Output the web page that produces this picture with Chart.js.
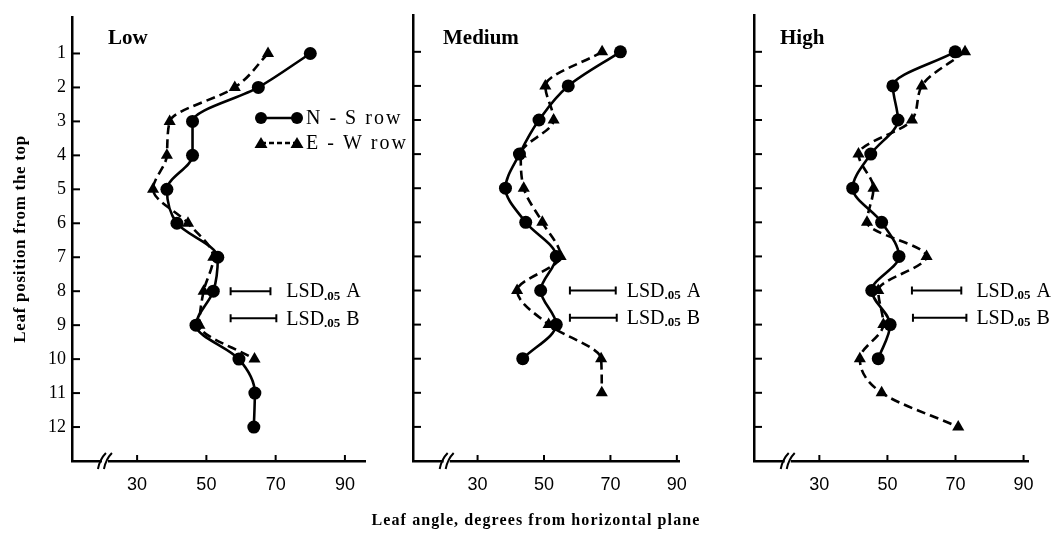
<!DOCTYPE html>
<html>
<head>
<meta charset="utf-8">
<script src="https://cdn.jsdelivr.net/npm/chart.js@4.4.1/dist/chart.umd.min.js"></script>
<style>
  body { margin: 0; background: #fff; width: 1058px; height: 533px; position: relative; overflow: hidden; }
  canvas.panel { position: absolute; top: 0; }
  #x-title {
    position: absolute; left: 0; width: 1072px; top: 511px; text-align: center;
    font: bold 16px 'Liberation Serif', serif; letter-spacing: 1.1px; color: #000;
  }
</style>
</head>
<body>
<canvas id="low-chart-id" class="panel" width="410" height="533" style="left:0px"></canvas>
<canvas id="medium-chart-id" class="panel" width="310" height="533" style="left:390px"></canvas>
<canvas id="high-chart-id" class="panel" width="328" height="533" style="left:730px"></canvas>
<div id="x-title">Leaf angle, degrees from horizontal plane</div>

<script>
// leaf positions (1 = top leaf)
const leafPositions = [1, 2, 3, 4, 5, 6, 7, 8, 9, 10, 11, 12];
const xTickValues = [30, 50, 70, 90];

// leaf angles, degrees
const lowNS = [80, 65, 46, 46, 38.6, 41.5, 53.3, 52, 47, 59.4, 64, 63.7];
const lowEW = [67.8, 58.2, 39.4, 38.6, 34.6, 44.7, 52, 49.2, 48, 63.9];
const mediumNS = [73, 57.3, 48.5, 42.6, 38.4, 44.5, 53.7, 49, 53.7, 43.6];
const mediumEW = [67.5, 50.4, 52.9, 43, 43.9, 49.5, 55, 41.9, 51.4, 67.2, 67.4];
const highNS = [69.9, 51.6, 53.1, 45.1, 39.8, 48.3, 53.4, 45.4, 50.8, 47.3];
const highEW = [72.8, 60.1, 57.2, 41.5, 45.9, 44, 61.5, 47.3, 48.8, 41.9, 48.3, 70.8];

// LSD.05 bars [from, to] in degrees
const lowLsdA = [57, 68.5];
const lowLsdB = [57, 70.2];
const mediumLsdA = [57.8, 71.6];
const mediumLsdB = [57.8, 71.9];
const highLsdA = [57.2, 71.7];
const highLsdB = [57.5, 73.2];

const LSD_ROWS = [8.0, 8.8];   // where the two bars sit
const BREAK_AT = 21;           // axis break mark

const SERIF = "'Liberation Serif', 'DejaVu Serif', serif";
const SANS = "'Liberation Sans', Arial, sans-serif";

function toPoints(values) {
  return values.map((v, i) => ({ x: v, y: leafPositions[i] }));
}

// draws inner ticks, axis break, labels and the legend
const panelDecor = {
  id: 'panelDecor',
  afterDraw(chart, args, opts) {
    const ctx = chart.ctx;
    const xs = chart.scales.x, ys = chart.scales.y;
    const area = chart.chartArea;
    ctx.save();
    ctx.strokeStyle = '#000';
    ctx.fillStyle = '#000';
    ctx.lineWidth = 2;

    // inner ticks on y axis
    leafPositions.forEach(p => {
      const y = ys.getPixelForValue(p);
      ctx.beginPath();
      ctx.moveTo(area.left, y);
      ctx.lineTo(area.left + 8, y);
      ctx.stroke();
    });
    // inner ticks on x axis
    xTickValues.forEach(v => {
      const x = xs.getPixelForValue(v);
      ctx.beginPath();
      ctx.moveTo(x, area.bottom);
      ctx.lineTo(x, area.bottom - 6);
      ctx.stroke();
    });

    // axis break "//"
    const bx = xs.getPixelForValue(BREAK_AT);
    const by = area.bottom;
    ctx.fillStyle = '#fff';
    ctx.fillRect(bx - 4, by - 3, 6, 6);
    ctx.fillStyle = '#000';
    [-4, 2].forEach(off => {
      ctx.beginPath();
      ctx.moveTo(bx + off - 4, by + 8);
      ctx.quadraticCurveTo(bx + off - 2, by - 2, bx + off + 4, by - 8);
      ctx.stroke();
    });

    // panel label
    ctx.font = 'bold 21px ' + SERIF;
    ctx.textBaseline = 'alphabetic';
    ctx.textAlign = 'left';
    ctx.fillText(opts.label, area.left + opts.labelDx, 44);

    // y axis title (Low panel only)
    if (opts.yTitle) {
      ctx.save();
      ctx.translate(21, (area.top + area.bottom) / 2);
      ctx.rotate(-Math.PI / 2);
      ctx.font = 'bold 17px ' + SERIF;
      ctx.letterSpacing = '0.7px';
      ctx.textAlign = 'center';
      ctx.textBaseline = 'middle';
      ctx.fillText(opts.yTitle, 0, 0);
      ctx.restore();
    }

    // LSD labels
    ctx.textBaseline = 'middle';
    const textX = xs.getPixelForValue(opts.lsdTextAt) + 10;
    ['A', 'B'].forEach((letter, i) => {
      const y = ys.getPixelForValue(LSD_ROWS[i]) + 1;
      let x = textX;
      ctx.font = '20px ' + SERIF;
      ctx.fillText('LSD', x, y);
      x += ctx.measureText('LSD').width;
      ctx.font = 'bold 13px ' + SERIF;
      ctx.fillText('.05', x, y + 4);
      x += ctx.measureText('.05').width + 6;
      ctx.font = '20px ' + SERIF;
      ctx.fillText(letter, x, y);
    });

    // legend (Low panel only)
    if (opts.legend) {
      const lx0 = 261, lx1 = 297, ly0 = 118, ly1 = 143;
      ctx.lineWidth = 2.5;
      ctx.beginPath(); ctx.moveTo(lx0, ly0); ctx.lineTo(lx1, ly0); ctx.stroke();
      [lx0, lx1].forEach(x => { ctx.beginPath(); ctx.arc(x, ly0, 6, 0, Math.PI * 2); ctx.fill(); });
      ctx.setLineDash([5, 3]);
      ctx.beginPath(); ctx.moveTo(lx0, ly1); ctx.lineTo(lx1, ly1); ctx.stroke();
      ctx.setLineDash([]);
      [lx0, lx1].forEach(x => {
        ctx.beginPath();
        ctx.moveTo(x, ly1 - 6); ctx.lineTo(x + 6.5, ly1 + 5); ctx.lineTo(x - 6.5, ly1 + 5);
        ctx.closePath(); ctx.fill();
      });
      ctx.font = '20px ' + SERIF;
      ctx.letterSpacing = '2px';
      ctx.fillText('N - S row', 306, ly0 + 1);
      ctx.fillText('E - W row', 306, ly1 + 1);
    }
    ctx.restore();
  }
};

function makePanel(id, cfg) {
  const el = document.getElementById(id);
  if (!el) return;
  new Chart(el, {
    type: 'scatter',
    data: {
      datasets: [
        {
          label: 'N-S row',
          data: toPoints(cfg.ns),
          indexAxis: 'y',
          showLine: true,
          borderColor: '#000',
          backgroundColor: '#000',
          borderWidth: 2.6,
          cubicInterpolationMode: 'monotone',
          pointStyle: 'circle',
          pointRadius: 6.5,
          pointBorderWidth: 0
        },
        {
          label: 'E-W row',
          data: toPoints(cfg.ew),
          indexAxis: 'y',
          showLine: true,
          borderColor: '#000',
          backgroundColor: '#000',
          borderWidth: 2.6,
          borderDash: [9, 5],
          cubicInterpolationMode: 'monotone',
          pointStyle: 'triangle',
          pointRadius: 7,
          pointBorderWidth: 0
        },
        {
          label: 'LSD A',
          data: cfg.lsdA.map(v => ({ x: v, y: LSD_ROWS[0] })),
          showLine: true,
          borderColor: '#000',
          borderWidth: 2,
          pointStyle: 'line',
          rotation: 90,
          pointRadius: 4,
          pointBorderWidth: 2,
          pointBorderColor: '#000'
        },
        {
          label: 'LSD B',
          data: cfg.lsdB.map(v => ({ x: v, y: LSD_ROWS[1] })),
          showLine: true,
          borderColor: '#000',
          borderWidth: 2,
          pointStyle: 'line',
          rotation: 90,
          pointRadius: 4,
          pointBorderWidth: 2,
          pointBorderColor: '#000'
        }
      ]
    },
    options: {
      responsive: false,
      animation: false,
      layout: { padding: { top: 15, right: cfg.padRight, bottom: 0, left: 0 } },
      plugins: {
        legend: { display: false },
        tooltip: { enabled: false },
        panelDecor: {
          label: cfg.label,
          labelDx: cfg.labelDx,
          legend: cfg.legend,
          yTitle: cfg.showY ? 'Leaf position from the top' : '',
          lsdTextAt: cfg.lsdB[1]
        }
      },
      scales: {
        x: {
          type: 'linear',
          min: cfg.xMin,
          max: cfg.xMax,
          afterBuildTicks: scale => { scale.ticks = xTickValues.map(v => ({ value: v })); },
          afterFit: scale => { scale.height = 72; },
          grid: { display: false, drawTicks: false },
          border: { display: true, color: '#000', width: 2.5 },
          ticks: { color: '#000', padding: 13, font: { family: SANS, size: 18 } }
        },
        y: {
          type: 'linear',
          reverse: true,
          min: -0.08,
          max: 13,
          afterBuildTicks: scale => { scale.ticks = leafPositions.map(v => ({ value: v })); },
          afterFit: scale => { scale.width = cfg.yWidth; },
          grid: { display: false, drawTicks: false },
          border: { display: true, color: '#000', width: 2.5 },
          ticks: {
            display: cfg.showY,
            color: '#000',
            padding: 6,
            font: { family: SERIF, size: 18 }
          }
        }
      }
    },
    plugins: [panelDecor]
  });
}

function initLeafAngleFigure() {
  makePanel('low-chart-id', {
    ns: lowNS, ew: lowEW, lsdA: lowLsdA, lsdB: lowLsdB,
    label: 'Low', labelDx: 36, legend: true, showY: true,
    xMin: 11.2, xMax: 95.8, yWidth: 72, padRight: 45
  });
  makePanel('medium-chart-id', {
    ns: mediumNS, ew: mediumEW, lsdA: mediumLsdA, lsdB: mediumLsdB,
    label: 'Medium', labelDx: 30, legend: false, showY: false,
    xMin: 10.56, xMax: 90.7, yWidth: 23, padRight: 15
  });
  makePanel('high-chart-id', {
    ns: highNS, ew: highEW, lsdA: highLsdA, lsdB: highLsdB,
    label: 'High', labelDx: 26, legend: false, showY: false,
    xMin: 10.8, xMax: 91.3, yWidth: 24, padRight: 30
  });
}

document.addEventListener('DOMContentLoaded', initLeafAngleFigure);
</script>
</body>
</html>
